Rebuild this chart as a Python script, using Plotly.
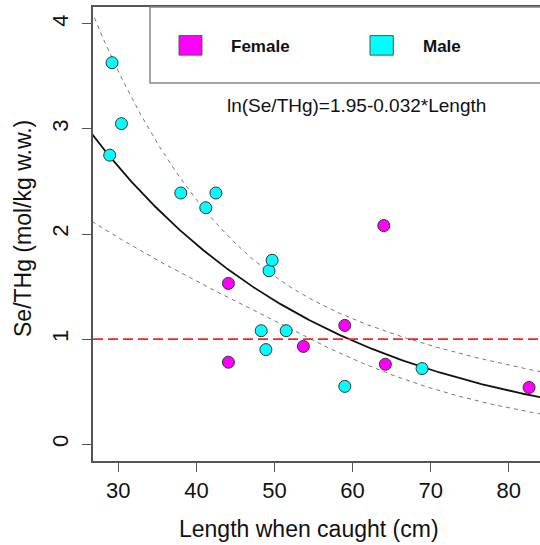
import numpy as np
import plotly.graph_objects as go

# ---- data ----
female_length = [44.1, 44.1, 53.7, 59.0, 64.0, 64.2, 82.6]
female_ratio = [1.53, 0.78, 0.93, 1.13, 2.08, 0.76, 0.54]

male_length = [28.9, 29.2, 30.4, 38.0, 41.2, 42.5, 48.3, 48.9, 49.3, 49.7, 51.5, 59.0, 68.9]
male_ratio = [2.75, 3.63, 3.05, 2.39, 2.25, 2.39, 1.08, 0.90, 1.65, 1.75, 1.08, 0.55, 0.72]

x_ticks = [30, 40, 50, 60, 70, 80]
y_ticks = [0, 1, 2, 3, 4]

# fitted model ln(Se/THg) = a + b*Length and its band
fit_intercept = 1.958
fit_slope = -0.0329
band_var0 = 0.0241
band_var1 = 1.483e-4
band_center = 50.66
reference_level = 1.0

equation_text = "ln(Se/THg)=1.95-0.032*Length"
x_title = "Length when caught (cm)"
y_title = "Se/THg (mol/kg w.w.)"

X_RANGE = [26.76, 84.0]
Y_RANGE = [-0.16, 4.16]

FONT = "Liberation Sans, Arial, Helvetica, sans-serif"

Lgrid = np.linspace(X_RANGE[0] - 1, X_RANGE[1] + 1, 300)
lin = fit_intercept + fit_slope * Lgrid
half = np.sqrt(band_var0 + band_var1 * (Lgrid - band_center) ** 2)
fit_curve = np.exp(lin)
upper = np.exp(lin + half)
lower = np.exp(lin - half)

fig = go.Figure()
fig.add_trace(go.Scatter(x=Lgrid, y=upper, mode="lines",
                         line=dict(color="#777777", width=1, dash="4px,4px"),
                         hoverinfo="skip", showlegend=False))
fig.add_trace(go.Scatter(x=Lgrid, y=lower, mode="lines",
                         line=dict(color="#777777", width=1, dash="4px,4px"),
                         hoverinfo="skip", showlegend=False))
fig.add_trace(go.Scatter(x=Lgrid, y=fit_curve, mode="lines",
                         line=dict(color="#111111", width=1.8),
                         hoverinfo="skip", showlegend=False))

fig.add_shape(type="line", xref="paper", x0=0, x1=1, yref="y",
              y0=reference_level, y1=reference_level,
              line=dict(color="#FF2020", width=1.6, dash="10px,5px"))

marker_line = dict(color="#333333", width=1)
fig.add_trace(go.Scatter(x=female_length, y=female_ratio, mode="markers", name="Female",
                         marker=dict(size=12, color="#FF00FF", line=marker_line),
                         showlegend=False))
fig.add_trace(go.Scatter(x=male_length, y=male_ratio, mode="markers", name="Male",
                         marker=dict(size=12, color="#00FFFF", line=marker_line),
                         showlegend=False))

# legend box drawn manually (R style)
fig.add_shape(type="rect", xref="paper", yref="paper", x0=0.1275, x1=1.1,
              y0=0.8326, y1=1.0, line=dict(color="#888888", width=1.5),
              fillcolor="rgba(0,0,0,0)")
fig.add_shape(type="rect", xref="paper", yref="paper", x0=0.1924, x1=0.2438,
              y0=0.894, y1=0.937, line=dict(color="#555555", width=1),
              fillcolor="#FF00FF")
fig.add_shape(type="rect", xref="paper", yref="paper", x0=0.6197, x1=0.6718,
              y0=0.894, y1=0.937, line=dict(color="#555555", width=1),
              fillcolor="#00FFFF")
fig.add_annotation(text="<b>Female</b>", xref="paper", yref="paper", x=0.3050, y=0.914,
                   xanchor="left", yanchor="middle", showarrow=False,
                   font=dict(family=FONT, size=17, color="#111111"))
fig.add_annotation(text="<b>Male</b>", xref="paper", yref="paper", x=0.7330, y=0.914,
                   xanchor="left", yanchor="middle", showarrow=False,
                   font=dict(family=FONT, size=17, color="#111111"))
fig.add_annotation(text=equation_text, xref="paper", yref="paper", x=0.5884, y=0.784,
                   xanchor="center", yanchor="middle", showarrow=False,
                   font=dict(family=FONT, size=19, color="#111111"))

# axis titles as annotations (pixel-placed)
fig.add_annotation(text=x_title, xref="paper", yref="paper", x=(309 - 93) / 447, y=-(529 - 461) / 454,
                   xanchor="center", yanchor="middle", showarrow=False,
                   font=dict(family=FONT, size=23, color="#111111"))
fig.add_annotation(text=y_title, xref="paper", yref="paper", x=-(93 - 23) / 447, y=(461 - 229) / 454,
                   xanchor="center", yanchor="middle", showarrow=False, textangle=-90,
                   font=dict(family=FONT, size=23, color="#111111"))

axis_common = dict(showgrid=False, zeroline=False, showline=True, linecolor="#555555",
                   linewidth=1.5, ticks="outside", ticklen=9, tickwidth=1.2,
                   tickcolor="#555555",
                   tickfont=dict(family=FONT, size=22, color="#111111"))
fig.update_xaxes(range=X_RANGE, tickvals=x_ticks, mirror=True, **axis_common)
fig.update_yaxes(range=Y_RANGE, tickvals=y_ticks, tickangle=-90,
                 ticklabelstandoff=5, **axis_common)

fig.update_layout(width=540, height=545, margin=dict(l=93, r=0, t=7, b=84),
                  plot_bgcolor="white", paper_bgcolor="white", showlegend=False)

fig.write_html("out.html", config={"displayModeBar": False},
               post_script="document.body.style.margin='0';document.body.style.overflow='hidden';")
